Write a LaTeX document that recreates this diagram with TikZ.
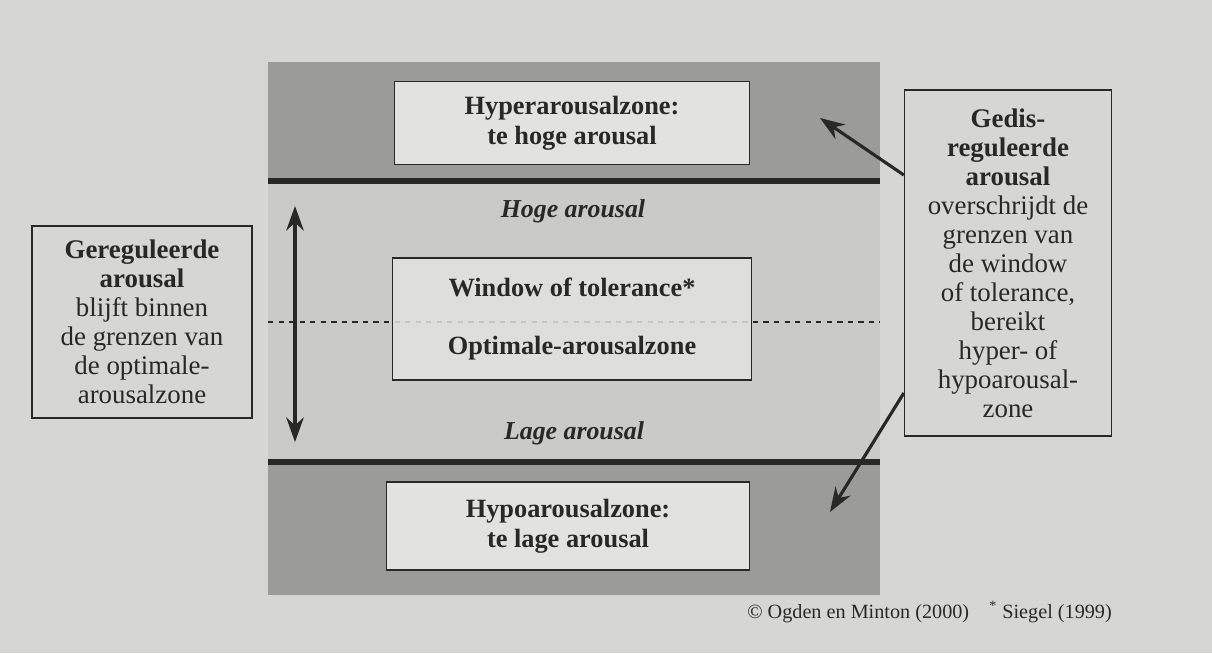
\documentclass[tikz,border=0pt]{standalone}
\usepackage{fontspec}
\setmainfont{Liberation Serif}
\usetikzlibrary{arrows.meta}
\definecolor{pagegray}{RGB}{214,214,212}
\definecolor{zonedark}{RGB}{155,155,153}
\definecolor{zonelight}{RGB}{202,202,200}
\definecolor{boxfill}{RGB}{226,226,224}
\definecolor{inkgray}{RGB}{40,40,40}
\begin{document}
\begin{tikzpicture}[x=0.02cm, y=-0.02cm,
    zonebox/.style={draw=inkgray, fill=boxfill, line width=0.8pt, align=center, text=inkgray,
      font=\fontsize{15}{17}\selectfont\bfseries, inner sep=0pt},
    sidebox/.style={draw=inkgray, line width=0.8pt, align=center, text=inkgray,
      font=\fontsize{15.3}{16.5}\selectfont, inner sep=0pt},
    levellabel/.style={font=\fontsize{14.7}{16}\selectfont\bfseries\itshape, text=inkgray},
    zoneline/.style={line width=3.2pt, draw=inkgray},
    pointer/.style={line width=1.8pt, draw=inkgray, -{Stealth[length=14pt,width=10pt]}}]
  \useasboundingbox (0,0) rectangle (1212,653);
  \fill[pagegray] (0,0) rectangle (1212,653);
  % zones
  \fill[zonedark] (268,62) rectangle (880,181);
  \fill[zonelight] (268,181) rectangle (880,462);
  \fill[zonedark] (268,462) rectangle (880,595);
  \draw[zoneline] (268,181) -- (880,181);
  \draw[zoneline] (268,462) -- (880,462);
  \draw[dashed, line width=1pt, inkgray] (268,322) -- (880,322);
  % boxes in the panel
  \node[zonebox, minimum width=7.1cm, minimum height=1.66cm] (hyper) at (572,123) {Hyperarousalzone:\\te hoge arousal};
  \node[zonebox, fill opacity=0.85, text opacity=1, minimum width=7.18cm, minimum height=2.44cm] (window) at (572,319) {Window of tolerance*\\[16pt]Optimale-arousalzone};
  \node[zonebox, minimum width=7.26cm, minimum height=1.76cm] (hypo) at (568,526) {Hypoarousalzone:\\te lage arousal};
  \node[levellabel] (hoge) at (573,211) {Hoge arousal};
  \node[levellabel] (lage) at (574,433) {Lage arousal};
  \coordinate (top) at (295,206);
  \coordinate (bottom) at (295,442);
  \draw[line width=1.8pt, inkgray, {Stealth[length=14pt,width=10pt]}-{Stealth[length=14pt,width=10pt]}] (top) -- (bottom);
  % side boxes
  \node[sidebox, minimum width=4.4cm, minimum height=3.84cm] (regulated) at (142,322)
    {\textbf{Gereguleerde}\\\textbf{arousal}\\blijft binnen\\de grenzen van\\de optimale-\\arousalzone};
  \node[sidebox, minimum width=4.14cm, minimum height=6.92cm] (dysregulated) at (1008,263)
    {\textbf{Gedis-}\\\textbf{reguleerde}\\\textbf{arousal}\\overschrijdt de\\grenzen van\\de window\\of tolerance,\\bereikt\\hyper- of\\hypoarousal-\\zone};
  \coordinate (hyperend) at (820,118);
  \coordinate (hypoend) at (830,512);
  \draw[pointer] ([yshift=1.76cm]dysregulated.west) -- (hyperend);
  \draw[pointer] ([yshift=-2.6cm]dysregulated.west) -- (hypoend);
  % source line
  \node[anchor=east, text=inkgray, font=\fontsize{11.5}{14}\selectfont] (source) at (1118,612)
    {\textcopyright{} Ogden en Minton (2000)\quad\textsuperscript{*} Siegel (1999)};
\end{tikzpicture}
\end{document}
